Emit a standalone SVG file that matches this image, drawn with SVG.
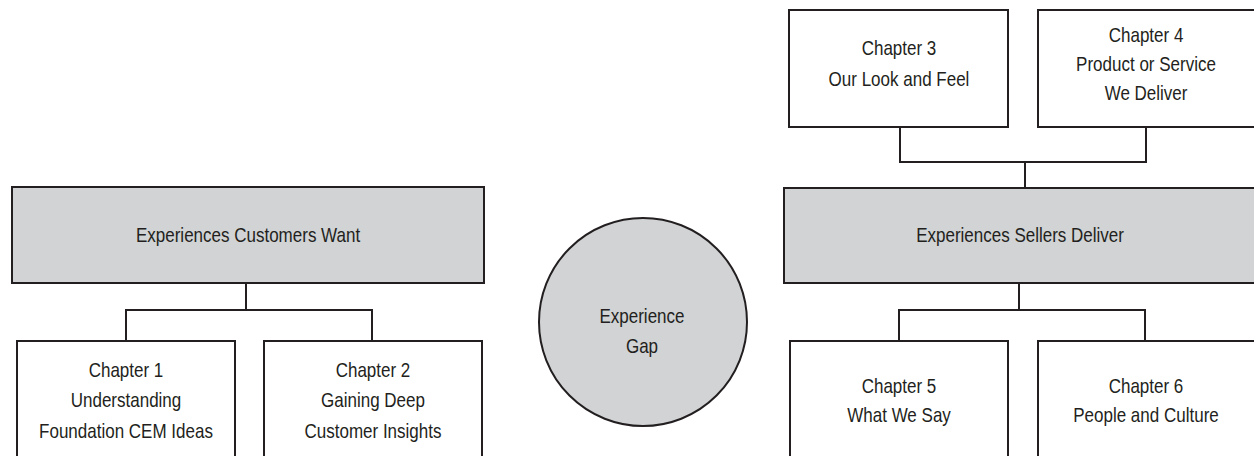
<svg xmlns="http://www.w3.org/2000/svg" width="1254" height="456" viewBox="0 0 1254 456">
<style>
.box{fill:#ffffff;stroke:#231f20;stroke-width:2}
.gray{fill:#d1d3d4;stroke:#231f20;stroke-width:2}
.t{font-family:"Liberation Sans",Arial,sans-serif;font-size:21px;fill:#231f20;text-anchor:middle;transform-box:fill-box;transform-origin:center;transform:scaleX(0.81)}
.c{fill:none;stroke:#231f20;stroke-width:2}
</style>
<rect width="1254" height="456" fill="#ffffff"/>
<g id="connectors">
<path class="c" d="M246 283V310M126 341V310H372V341"/>
<path class="c" d="M900 127V162H1146V127M1025 162V188"/>
<path class="c" d="M1019 283V310M899 341V310H1145V341"/>
</g>
<g id="customers-want">
<rect class="gray" x="12" y="187" width="472" height="96"/>
<text class="t" x="248" y="242">Experiences Customers Want</text>
</g>
<g id="chapter1">
<rect class="box" x="17" y="341" width="218" height="120"/>
<text class="t" x="126" y="377">Chapter 1</text>
<text class="t" x="126" y="407">Understanding</text>
<text class="t" x="126" y="438">Foundation CEM Ideas</text>
</g>
<g id="chapter2">
<rect class="box" x="264" y="341" width="218" height="120"/>
<text class="t" x="373" y="377">Chapter 2</text>
<text class="t" x="373" y="407">Gaining Deep</text>
<text class="t" x="373" y="438">Customer Insights</text>
</g>
<g id="experience-gap">
<circle class="gray" cx="643" cy="322" r="104"/>
<text class="t" x="642" y="323">Experience</text>
<text class="t" x="642" y="353">Gap</text>
</g>
<g id="sellers-deliver">
<rect class="gray" x="784" y="188" width="480" height="95"/>
<text class="t" x="1020" y="242">Experiences Sellers Deliver</text>
</g>
<g id="chapter3">
<rect class="box" x="789" y="10" width="219" height="117"/>
<text class="t" x="899" y="55">Chapter 3</text>
<text class="t" x="899" y="86">Our Look and Feel</text>
</g>
<g id="chapter4">
<rect class="box" x="1038" y="10" width="226" height="117"/>
<text class="t" x="1146" y="42">Chapter 4</text>
<text class="t" x="1146" y="71">Product or Service</text>
<text class="t" x="1146" y="100">We Deliver</text>
</g>
<g id="chapter5">
<rect class="box" x="790" y="341" width="218" height="120"/>
<text class="t" x="899" y="393">Chapter 5</text>
<text class="t" x="899" y="422">What We Say</text>
</g>
<g id="chapter6">
<rect class="box" x="1038" y="341" width="226" height="120"/>
<text class="t" x="1146" y="393">Chapter 6</text>
<text class="t" x="1146" y="422">People and Culture</text>
</g>
</svg>
